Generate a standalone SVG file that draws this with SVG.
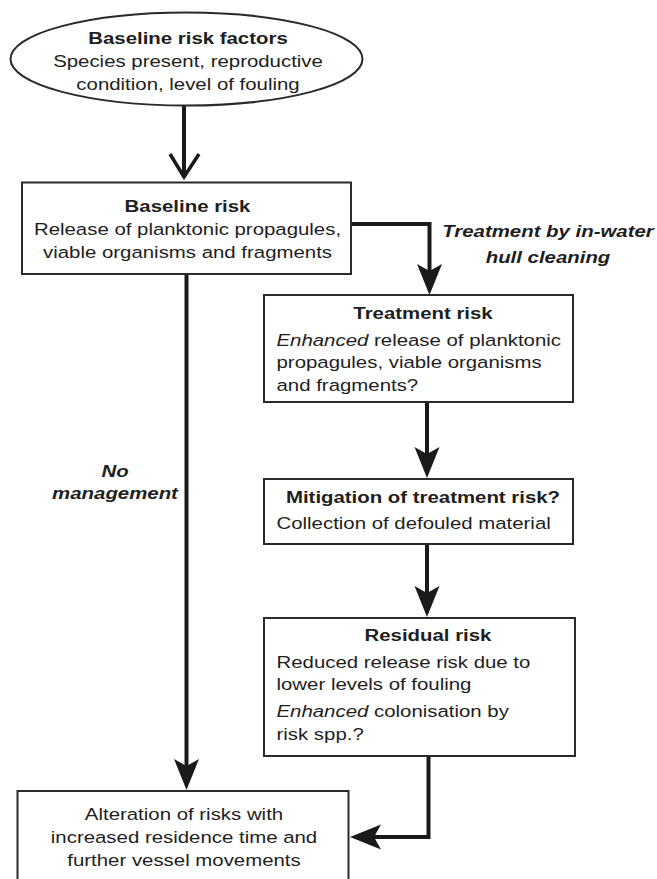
<svg xmlns="http://www.w3.org/2000/svg" width="657" height="879" viewBox="0 0 657 879">
<style>
  .shape { fill: #ffffff; stroke: #2a2a2a; stroke-width: 2; }
  .t { font-family: "Liberation Sans", Arial, sans-serif; font-size: 17px; fill: #1e1e1e; }
  .b { font-weight: bold; }
  .bi { font-weight: bold; font-style: italic; }
  .i { font-style: italic; }
  .c { text-anchor: middle; }
  .conn { fill: none; stroke: #1a1a1a; stroke-width: 4; }
  .open { fill: none; stroke: #1a1a1a; stroke-width: 3.5; stroke-linejoin: miter; }
</style>
<defs>
  <marker id="head" markerUnits="userSpaceOnUse" markerWidth="32" markerHeight="26" viewBox="0 0 32 26" refX="19" refY="12.5" orient="auto">
    <path d="M0,0 L31,12.5 L0,25 L7,12.5 Z" fill="#1a1a1a"/>
  </marker>
</defs>
<rect width="657" height="879" fill="#ffffff"/>

<g id="connectors">
  <line class="conn" x1="184" y1="106" x2="184" y2="176"/>
  <polyline class="open" points="170,154 184,177 199,154"/>
  <path class="conn" d="M351,224 H429.5 V283" marker-end="url(#head)"/>
  <line class="conn" x1="427" y1="402" x2="427" y2="466" marker-end="url(#head)"/>
  <line class="conn" x1="427" y1="544" x2="427" y2="605" marker-end="url(#head)"/>
  <path class="conn" d="M428.5,756 V837 H362" marker-end="url(#head)"/>
  <line class="conn" x1="186.5" y1="274" x2="186.5" y2="778" marker-end="url(#head)"/>
  <text class="t bi c" transform="translate(548 0) scale(1.2 1)"><tspan x="0" y="237">Treatment by in-water</tspan><tspan x="0" y="263">hull cleaning</tspan></text>
  <text class="t bi c" transform="translate(115 0) scale(1.2 1)"><tspan x="0" y="477">No</tspan><tspan x="0" y="499">management</tspan></text>
</g>

<g id="baseline-risk-factors">
  <ellipse class="shape" cx="186.5" cy="59" rx="176" ry="46.5"/>
  <text class="t c" transform="translate(188 0) scale(1.2 1)"><tspan class="b" x="0" y="44">Baseline risk factors</tspan><tspan x="0" y="67">Species present, reproductive</tspan><tspan x="0" y="90">condition, level of fouling</tspan></text>
</g>

<g id="baseline-risk">
  <rect class="shape" x="22" y="182.5" width="329" height="91.5"/>
  <text class="t c" transform="translate(187.5 0) scale(1.2 1)"><tspan class="b" x="0" y="212">Baseline risk</tspan><tspan x="0" y="235">Release of planktonic propagules,</tspan><tspan x="0" y="258">viable organisms and fragments</tspan></text>
</g>

<g id="treatment-risk">
  <rect class="shape" x="264" y="295" width="309" height="107"/>
  <text class="t b c" transform="translate(423 0) scale(1.2 1)" x="0" y="319">Treatment risk</text>
  <text class="t" transform="translate(276.5 0) scale(1.2 1)"><tspan x="0" y="346"><tspan class="i">Enhanced</tspan> release of planktonic</tspan><tspan x="0" y="368">propagules, viable organisms</tspan><tspan x="0" y="391">and fragments?</tspan></text>
</g>

<g id="mitigation">
  <rect class="shape" x="264" y="479" width="309" height="65"/>
  <text class="t b c" transform="translate(423 0) scale(1.2 1)" x="0" y="503">Mitigation of treatment risk?</text>
  <text class="t" transform="translate(276.5 0) scale(1.2 1)" x="0" y="529">Collection of defouled material</text>
</g>

<g id="residual-risk">
  <rect class="shape" x="264" y="618" width="311" height="138"/>
  <text class="t b c" transform="translate(428 0) scale(1.2 1)" x="0" y="641">Residual risk</text>
  <text class="t" transform="translate(276.5 0) scale(1.2 1)"><tspan x="0" y="668">Reduced release risk due to</tspan><tspan x="0" y="690">lower levels of fouling</tspan><tspan x="0" y="717"><tspan class="i">Enhanced</tspan> colonisation by</tspan><tspan x="0" y="740">risk spp.?</tspan></text>
</g>

<g id="alteration">
  <rect class="shape" x="17.5" y="791" width="331" height="100"/>
  <text class="t c" transform="translate(184 0) scale(1.2 1)"><tspan x="0" y="820">Alteration of risks with</tspan><tspan x="0" y="843">increased residence time and</tspan><tspan x="0" y="866">further vessel movements</tspan></text>
</g>
</svg>
